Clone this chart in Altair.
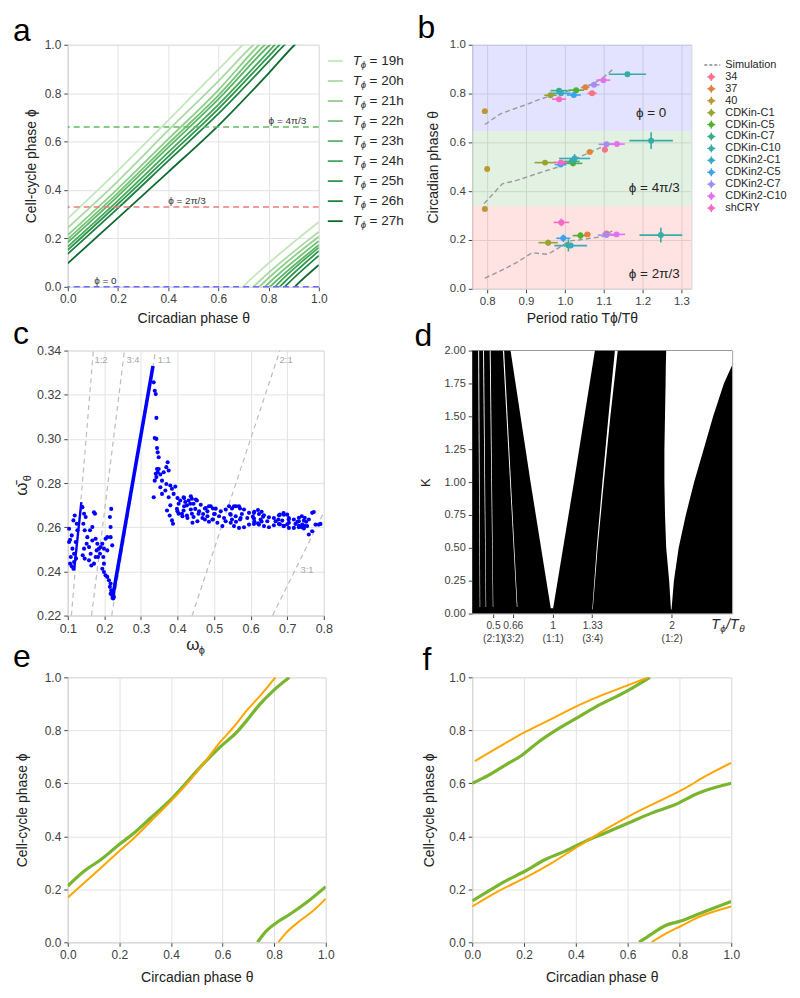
import altair as alt
import pandas as pd

FONT = "Liberation Sans"
GRID = "#e3e3e3"
FRAME = "#d5d5d5"
INK = "#262626"

# ======================= panel a : data =======================
a_periods = ["19h", "20h", "21h", "22h", "23h", "24h", "25h", "26h", "27h"]
a_theta_grid = [0.0, 0.2, 0.4, 0.6, 0.8]
# cell-cycle phase read at theta = 0, 0.2, 0.4, 0.6, 0.8 (None once the line has wrapped)
a_phi_19h = [0.282, 0.480, 0.688, 0.898, None]
a_phi_20h = [0.244, 0.437, 0.646, 0.850, None]
a_phi_21h = [0.214, 0.406, 0.610, 0.813, None]
a_phi_22h = [0.197, 0.388, 0.591, 0.791, None]
a_phi_23h = [0.184, 0.375, 0.576, 0.775, None]
a_phi_24h = [0.166, 0.356, 0.555, 0.753, 0.972]
a_phi_25h = [0.152, 0.342, 0.538, 0.735, 0.952]
a_phi_26h = [0.136, 0.325, 0.520, 0.715, 0.930]
a_phi_27h = [0.097, 0.285, 0.474, 0.666, 0.882]
a_theta_at_phi1 = [0.697, 0.739, 0.763, 0.785, 0.805, 0.825, 0.844, 0.864, 0.904]
a_phi_at_theta1 = [0.268, 0.227, 0.207, 0.189, 0.173, 0.162, 0.148, 0.129, 0.090]
a_ref_phi = [0.0, 0.33, 0.66]
a_ref_label = ["ϕ = 0", "ϕ = 2π/3", "ϕ = 4π/3"]
a_ref_label_theta = [0.105, 0.40, 0.80]
a_colors = ["#c4e6bc", "#a8daa1", "#8ccf88", "#74c476", "#5cb567",
            "#45a95b", "#2f974d", "#1c8340", "#0b6b30"]
a_ref_colors = ["#6b6bff", "#f07a7a", "#62bb62"]

# ======================= panel b : data =======================
b_names = ["34", "37", "40", "CDKin-C1", "CDKin-C5", "CDKin-C7", "CDKin-C10",
           "CDKin2-C1", "CDKin2-C5", "CDKin2-C7", "CDKin2-C10", "shCRY"]
b_top_x = [1.070, 1.053, 0.794, 0.963, 1.029, 0.985, 1.161, 0.990, 1.023, 1.075, 1.099, 0.985]
b_top_y = [0.801, 0.826, 0.728, 0.793, 0.814, 0.812, 0.879, 0.801, 0.794, 0.836, 0.855, 0.777]
b_top_xerr = [0.012, 0.010, 0.005, 0.016, 0.020, 0.022, 0.048, 0.025, 0.018, 0.014, 0.018, 0.018]
b_top_yerr = [0.008, 0.008, 0.008, 0.008, 0.008, 0.010, 0.008, 0.010, 0.008, 0.008, 0.008, 0.008]
b_mid_x = [1.103, 1.064, 0.800, 0.949, 1.021, 1.018, 1.222, 1.025, 0.989, 1.107, 1.134, 0.990]
b_mid_y = [0.570, 0.561, 0.491, 0.517, 0.514, 0.522, 0.607, 0.534, 0.509, 0.592, 0.593, 0.518]
b_mid_xerr = [0.008, 0.008, 0.005, 0.027, 0.024, 0.020, 0.056, 0.040, 0.015, 0.020, 0.020, 0.018]
b_mid_yerr = [0.008, 0.008, 0.008, 0.008, 0.012, 0.012, 0.034, 0.018, 0.008, 0.008, 0.008, 0.008]
b_bot_x = [1.107, 1.058, 0.794, 0.957, 1.040, 1.009, 1.247, 1.015, 0.996, 1.107, 1.133, 0.991]
b_bot_y = [0.227, 0.223, 0.327, 0.189, 0.218, 0.178, 0.220, 0.177, 0.207, 0.220, 0.223, 0.272]
b_bot_xerr = [0.010, 0.008, 0.005, 0.025, 0.020, 0.012, 0.055, 0.042, 0.018, 0.022, 0.022, 0.020]
b_bot_yerr = [0.008, 0.008, 0.008, 0.012, 0.014, 0.025, 0.030, 0.010, 0.015, 0.008, 0.008, 0.016]
b_sim_top_x = [0.794, 0.834, 0.899, 0.937, 0.976, 1.019, 1.062, 1.096, 1.122]
b_sim_top_y = [0.673, 0.717, 0.754, 0.777, 0.797, 0.814, 0.832, 0.862, 0.897]
b_sim_mid_x = [0.792, 0.839, 0.878, 0.942, 0.985, 1.019, 1.066, 1.104, 1.121]
b_sim_mid_y = [0.349, 0.430, 0.445, 0.479, 0.500, 0.527, 0.560, 0.587, 0.595]
b_sim_bot_x = [0.794, 0.834, 0.873, 0.916, 0.956, 0.985, 1.010, 1.036, 1.096, 1.122]
b_sim_bot_y = [0.044, 0.073, 0.105, 0.148, 0.141, 0.169, 0.196, 0.200, 0.214, 0.237]
b_band_edges = [0.0, 0.339, 0.648, 1.0]
b_band_label = ["ϕ = 2π/3", "ϕ = 4π/3", "ϕ = 0"]
b_band_label_x = [1.23, 1.23, 1.222]
b_band_label_y = [0.060, 0.414, 0.720]
b_colors = ["#f77189", "#e0823a", "#bb9832", "#97a431", "#50b131", "#34af8a",
            "#36ada4", "#38aabf", "#3ba3ec", "#a48cf4", "#e46ff3", "#f668c2"]

# ======================= panel c : data =======================
c_left_cluster = [(0.1036, 0.2593), (0.1064, 0.2543), (0.1036, 0.2533), (0.1082, 0.2465),
                  (0.1064, 0.2435), (0.1109, 0.2423), (0.1154, 0.2412), (0.1172, 0.2442),
                  (0.1127, 0.2503), (0.1154, 0.2631), (0.1190, 0.2653), (0.1245, 0.2616),
                  (0.1263, 0.2586), (0.1109, 0.2563), (0.1218, 0.2533), (0.1172, 0.2480),
                  (0.1227, 0.2458)]
c_cloud = [(0.1400, 0.2691), (0.1445, 0.2661), (0.1490, 0.2646), (0.1426, 0.2616),
           (0.1463, 0.2586), (0.1535, 0.2555), (0.1517, 0.2525), (0.1445, 0.2503),
           (0.1408, 0.2473), (0.1463, 0.2458), (0.1581, 0.2510), (0.1626, 0.2480),
           (0.1608, 0.2586), (0.1672, 0.2601), (0.1717, 0.2668), (0.1744, 0.2661),
           (0.1672, 0.2540), (0.1762, 0.2548), (0.1808, 0.2525), (0.1790, 0.2495),
           (0.1853, 0.2503), (0.1898, 0.2510), (0.1880, 0.2480), (0.1944, 0.2525),
           (0.1989, 0.2503), (0.2034, 0.2548), (0.2080, 0.2555), (0.2171, 0.2555),
           (0.2171, 0.2601), (0.2189, 0.2683), (0.2152, 0.2646), (0.2216, 0.2518),
           (0.2080, 0.2495), (0.1971, 0.2465), (0.1826, 0.2465), (0.1717, 0.2435),
           (0.1644, 0.2427), (0.1581, 0.2450), (0.1762, 0.2465), (0.1989, 0.2435)]
c_descent = [(0.1944, 0.2412), (0.1989, 0.2397), (0.2034, 0.2382), (0.2080, 0.2375),
             (0.2125, 0.2360), (0.2171, 0.2345), (0.2152, 0.2330), (0.2189, 0.2314),
             (0.2171, 0.2299), (0.2216, 0.2292), (0.2243, 0.2277), (0.2261, 0.2284)]
c_after_peak = [(0.3350, 0.3256), (0.3378, 0.3218), (0.3405, 0.3203), (0.3423, 0.3095),
                (0.3378, 0.3004), (0.3423, 0.3000), (0.3441, 0.2959), (0.3459, 0.2939),
                (0.3486, 0.2917), (0.3441, 0.2864), (0.3350, 0.2736), (0.3378, 0.2811),
                (0.3405, 0.2842), (0.3423, 0.2827), (0.3459, 0.2849), (0.3486, 0.2864),
                (0.3532, 0.2839), (0.3577, 0.2811), (0.3622, 0.2849), (0.3695, 0.2872),
                (0.3731, 0.2894), (0.3759, 0.2857), (0.3532, 0.2781), (0.3577, 0.2751),
                (0.3668, 0.2766), (0.3695, 0.2796), (0.3804, 0.2789), (0.3849, 0.2774),
                (0.3895, 0.2751), (0.3940, 0.2784), (0.3759, 0.2736), (0.3804, 0.2699),
                (0.3713, 0.2676), (0.3786, 0.2653), (0.3849, 0.2631), (0.3877, 0.2616),
                (0.3985, 0.2683), (0.4031, 0.2706), (0.4076, 0.2721), (0.4167, 0.2736),
                (0.4212, 0.2714), (0.4258, 0.2699), (0.4303, 0.2721), (0.4348, 0.2706),
                (0.4394, 0.2729), (0.4439, 0.2706), (0.4485, 0.2683), (0.4530, 0.2721),
                (0.4575, 0.2661), (0.4439, 0.2646), (0.4394, 0.2661), (0.4258, 0.2653),
                (0.4167, 0.2676), (0.4122, 0.2661), (0.4031, 0.2661)]
c_band_upper = [(0.4000, 0.2732), (0.4182, 0.2732), (0.4364, 0.2740), (0.4500, 0.2725),
                (0.4636, 0.2702), (0.4773, 0.2687), (0.4909, 0.2695), (0.5045, 0.2684),
                (0.5182, 0.2672), (0.5318, 0.2680), (0.5409, 0.2695), (0.5545, 0.2695),
                (0.5682, 0.2695), (0.5818, 0.2680), (0.5955, 0.2665), (0.6091, 0.2665),
                (0.6227, 0.2660), (0.6364, 0.2654), (0.6500, 0.2645), (0.6636, 0.2642),
                (0.6773, 0.2654), (0.6909, 0.2657), (0.7045, 0.2642), (0.7182, 0.2635),
                (0.7318, 0.2627), (0.7455, 0.2630), (0.7591, 0.2635), (0.7682, 0.2665),
                (0.7727, 0.2669), (0.7773, 0.2612)]
c_band_lower = [(0.4000, 0.2672), (0.4136, 0.2650), (0.4273, 0.2642), (0.4409, 0.2620),
                (0.4545, 0.2627), (0.4682, 0.2642), (0.4818, 0.2650), (0.4955, 0.2635),
                (0.5091, 0.2620), (0.5227, 0.2605), (0.5318, 0.2627), (0.5455, 0.2620),
                (0.5545, 0.2605), (0.5682, 0.2597), (0.5818, 0.2600), (0.5955, 0.2612),
                (0.6091, 0.2615), (0.6227, 0.2612), (0.6364, 0.2605), (0.6500, 0.2600),
                (0.6636, 0.2609), (0.6773, 0.2615), (0.6909, 0.2605), (0.7045, 0.2597),
                (0.7182, 0.2597), (0.7318, 0.2600), (0.7455, 0.2594), (0.7591, 0.2567),
                (0.7682, 0.2582), (0.7864, 0.2612), (0.7909, 0.2615)]
c_band_mid = [(0.4182, 0.2695), (0.4364, 0.2680), (0.4591, 0.2672), (0.4818, 0.2672),
              (0.5000, 0.2660), (0.5136, 0.2650), (0.5273, 0.2642), (0.5455, 0.2657),
              (0.5591, 0.2650), (0.5727, 0.2642), (0.5909, 0.2642), (0.6091, 0.2639),
              (0.6273, 0.2635), (0.6455, 0.2627), (0.6682, 0.2627), (0.6864, 0.2630),
              (0.7045, 0.2620), (0.7227, 0.2615), (0.7409, 0.2612), (0.7545, 0.2605)]
c_band_loops = [(0.470, 0.2660), (0.475, 0.2685), (0.486, 0.2695), (0.497, 0.2685),
                (0.502, 0.2660), (0.497, 0.2635), (0.486, 0.2625), (0.475, 0.2635),
                (0.544, 0.2660), (0.549, 0.2685), (0.560, 0.2695), (0.571, 0.2685),
                (0.576, 0.2660), (0.571, 0.2635), (0.560, 0.2625), (0.549, 0.2635),
                (0.606, 0.2648), (0.610, 0.2670), (0.620, 0.2678), (0.630, 0.2670),
                (0.634, 0.2648), (0.630, 0.2626), (0.620, 0.2618), (0.610, 0.2626),
                (0.676, 0.2635), (0.680, 0.2657), (0.690, 0.2664), (0.700, 0.2657),
                (0.704, 0.2635), (0.700, 0.2613), (0.690, 0.2606), (0.680, 0.2613),
                (0.728, 0.2625), (0.732, 0.2643), (0.740, 0.2650), (0.748, 0.2643),
                (0.752, 0.2625), (0.748, 0.2607), (0.740, 0.2600), (0.732, 0.2607)]
c_lock12_x = [0.1172, 0.1372]
c_lock12_y = [0.2405, 0.2714]
c_lock11_x = [0.2216, 0.3330]
c_lock11_y = [0.2272, 0.3330]
c_ratio_label = ["1:2", "3:4", "1:1", "2:1", "3:1"]
c_ratio_x0 = [0.110, 0.165, 0.220, 0.440, 0.660]
c_ratio_y0 = [0.220, 0.220, 0.220, 0.220, 0.220]
c_ratio_x1 = [0.170, 0.255, 0.340, 0.680, 0.800]
c_ratio_y1 = [0.340, 0.340, 0.340, 0.340, 0.2667]
c_ratio_label_x = [0.173, 0.2605, 0.3457, 0.679, 0.736]
c_ratio_label_y = [0.3357, 0.3357, 0.3357, 0.3357, 0.2405]

# ======================= panel d : data =======================
d_domain_x = [0.325, 2.51]
d_domain_k = [0.0, 2.0]
d_v11_k = [0.04, 1.0, 2.0]
d_v11_left = [0.985, 0.815, 0.647]
d_v11_right = [1.005, 1.180, 1.356]
d_v12_k = [0.03, 0.25, 0.5, 0.75, 1.0, 1.25, 1.5, 1.75, 1.89, 2.0]
d_v12_left = [1.995, 1.980, 1.955, 1.945, 1.940, 1.940, 1.945, 1.950, 1.952, 1.955]
d_v12_right = [2.000, 2.020, 2.060, 2.120, 2.190, 2.270, 2.350, 2.440, 2.510, 2.510]
d_s34_k = [0.03, 0.5, 1.0, 1.5, 2.0]
d_s34_left = [1.334, 1.371, 1.419, 1.470, 1.524]
d_s34_right = [1.338, 1.379, 1.431, 1.486, 1.548]
d_streak_k = [0.05, 2.0]
d_streak_left = [[0.388, 0.375], [0.438, 0.416], [0.498, 0.472], [0.700, 0.583]]
d_streak_right = [[0.392, 0.383], [0.442, 0.424], [0.502, 0.480], [0.705, 0.593]]
d_tick_vals = [0.5, 0.666, 1.0, 1.333, 2.0]
d_tick_top = ["0.5", "0.66", "1", "1.33", "2"]
d_tick_bottom = ["(2:1)", "(3:2)", "(1:1)", "(3:4)", "(1:2)"]

# ======================= panel e / f : data =======================
e_green_main_x = [0.0, 0.064, 0.129, 0.199, 0.257, 0.321, 0.398, 0.463, 0.527, 0.591, 0.656, 0.694, 0.746, 0.797, 0.859]
e_green_main_y = [0.2125, 0.269, 0.3125, 0.369, 0.4125, 0.469, 0.5375, 0.606, 0.675, 0.7375, 0.794, 0.8375, 0.900, 0.950, 1.0]
e_green_low_x = [0.735, 0.771, 0.810, 0.861, 0.925, 1.0]
e_green_low_y = [0.0, 0.044, 0.075, 0.106, 0.150, 0.210]
e_orange_main_x = [0.0, 0.064, 0.129, 0.199, 0.257, 0.321, 0.398, 0.463, 0.527, 0.591, 0.643, 0.694, 0.746, 0.805]
e_orange_main_y = [0.169, 0.225, 0.281, 0.344, 0.394, 0.456, 0.531, 0.600, 0.675, 0.756, 0.8125, 0.875, 0.931, 1.0]
e_orange_low_x = [0.816, 0.848, 0.900, 0.951, 1.0]
e_orange_low_y = [0.0, 0.0375, 0.081, 0.119, 0.165]

f_green_mid_x = [0.0, 0.064, 0.128, 0.205, 0.282, 0.359, 0.436, 0.513, 0.603, 0.692, 0.782, 0.872, 1.0]
f_green_mid_y = [0.156, 0.194, 0.231, 0.269, 0.3125, 0.344, 0.381, 0.4125, 0.450, 0.4875, 0.519, 0.5625, 0.600]
f_green_top_x = [0.0, 0.064, 0.128, 0.192, 0.256, 0.333, 0.410, 0.487, 0.590, 0.686]
f_green_top_y = [0.600, 0.631, 0.669, 0.706, 0.756, 0.806, 0.850, 0.894, 0.944, 1.0]
f_green_low_x = [0.644, 0.692, 0.744, 0.808, 0.872, 1.0]
f_green_low_y = [0.0, 0.031, 0.0625, 0.081, 0.106, 0.154]
f_orange_mid_x = [0.0, 0.103, 0.205, 0.308, 0.410, 0.513, 0.615, 0.718, 0.821, 0.897, 1.0]
f_orange_mid_y = [0.135, 0.194, 0.244, 0.300, 0.3625, 0.425, 0.481, 0.531, 0.581, 0.625, 0.6775]
f_orange_top_x = [0.010, 0.103, 0.205, 0.308, 0.410, 0.513, 0.615, 0.679]
f_orange_top_y = [0.684, 0.7375, 0.794, 0.844, 0.894, 0.9375, 0.975, 1.0]
f_orange_low_x = [0.692, 0.744, 0.808, 0.872, 1.0]
f_orange_low_y = [0.0, 0.031, 0.0625, 0.094, 0.135]

GREEN = "#7ab52e"
ORANGE = "#ffa500"

# ======================= helpers =======================
ticks01 = [0, 0.2, 0.4, 0.6, 0.8, 1.0]


def qx(field, domain, values, fmt, title, **kw):
    return alt.X(field, type="quantitative",
                 scale=alt.Scale(domain=domain, nice=False, zero=False),
                 axis=alt.Axis(values=values, format=fmt, title=title, **kw))


def qy(field, domain, values, fmt, title, **kw):
    return alt.Y(field, type="quantitative",
                 scale=alt.Scale(domain=domain, nice=False, zero=False),
                 axis=alt.Axis(values=values, format=fmt, title=title, **kw))


def letter(ch, dx, dy):
    return alt.Chart(pd.DataFrame({"t": [ch]})).mark_text(
        align="left", baseline="alphabetic", fontSize=32, font=FONT, color="black"
    ).encode(text="t:N", x=alt.value(dx), y=alt.value(dy))


def label(txt, dx, dy, size=14, italic=False, angle=0, align="left", color=INK):
    kw = dict(align=align, baseline="alphabetic", fontSize=size, font=FONT, color=color)
    if italic:
        kw["fontStyle"] = "italic"
    if angle:
        kw["angle"] = angle
    return alt.Chart(pd.DataFrame({"t": [txt]})).mark_text(**kw).encode(
        text="t:N", x=alt.value(dx), y=alt.value(dy))


def seg_table(segs):
    rows = []
    for name, xs, ys in segs:
        for k, (xv, yv) in enumerate(zip(xs, ys)):
            rows.append({"seg": name, "k": k, "x": xv, "y": yv})
    return pd.DataFrame(rows)


# ======================= panel a =======================
WA, HA = 252, 243
ax_a = lambda f: qx(f, [0, 1], ticks01, ".1f", "Circadian phase θ", titlePadding=7)
ay_a = lambda f: qy(f, [0, 1], ticks01, ".1f", "Cell-cycle phase ϕ", titlePadding=6)
a_phi_rows = [a_phi_19h, a_phi_20h, a_phi_21h, a_phi_22h, a_phi_23h,
              a_phi_24h, a_phi_25h, a_phi_26h, a_phi_27h]
a_rows = []
for i, p in enumerate(a_periods):
    pts = [(t, v) for t, v in zip(a_theta_grid, a_phi_rows[i]) if v is not None]
    pts += [(a_theta_at_phi1[i], 1.0), (1.0, 1.0 + a_phi_at_theta1[i])]
    pts.sort()
    for k, (t, v) in enumerate(pts):
        a_rows.append({"period": p, "k": k, "theta": t, "phi": v})
a_df = pd.DataFrame(a_rows)
a_color = alt.Color("period:N", scale=alt.Scale(domain=a_periods, range=a_colors), legend=None)

a_up = alt.Chart(a_df).mark_line(clip=True, interpolate="monotone", strokeWidth=1.8).encode(
    x=ax_a("theta"), y=ay_a("phi"), color=a_color, order="k:Q")
a_lo = alt.Chart(a_df).transform_calculate(phiw="datum.phi - 1").mark_line(
    clip=True, interpolate="monotone", strokeWidth=1.8).encode(
    x=ax_a("theta"), y=ay_a("phiw"), color=a_color, order="k:Q")
a_ref_df = pd.DataFrame({"phi": a_ref_phi, "lab": a_ref_label, "tx": a_ref_label_theta,
                         "col": a_ref_colors})
a_ref = alt.Chart(a_ref_df).mark_rule(strokeDash=[6, 4], strokeWidth=1.4).encode(
    y=ay_a("phi"), stroke=alt.Stroke("col:N", scale=None))
a_txt = alt.Chart(a_ref_df).mark_text(align="left", baseline="alphabetic", dy=-3,
                                      fontSize=10, font=FONT, color="#333").encode(
    x=ax_a("tx"), y=ay_a("phi"), text="lab:N")
a_leg = pd.DataFrame({"period": a_periods, "val": ["= " + p for p in a_periods]})
a_leg["ly"] = [1 - (16.3 + i * 20.1) / HA for i in range(len(a_periods))]
a_leg_line = alt.Chart(a_leg).mark_rule(strokeWidth=1.8).encode(
    x=alt.value(261), x2=alt.value(276), y=ay_a("ly"), color=a_color)
a_leg_T = alt.Chart(a_leg).mark_text(align="left", baseline="middle", fontSize=13.5,
                                     font=FONT, fontStyle="italic", color=INK).encode(
    x=alt.value(286), y=ay_a("ly"), text=alt.value("T"))
a_leg_sub = alt.Chart(a_leg).mark_text(align="left", baseline="middle", fontSize=9.5, dy=4,
                                       font=FONT, fontStyle="italic", color=INK).encode(
    x=alt.value(294), y=ay_a("ly"), text=alt.value("ϕ"))
a_leg_val = alt.Chart(a_leg).mark_text(align="left", baseline="middle", fontSize=13.5,
                                       font=FONT, color=INK).encode(
    x=alt.value(303), y=ay_a("ly"), text="val:N")
panel_a = alt.layer(a_up, a_lo, a_ref, a_txt, a_leg_line, a_leg_T, a_leg_sub, a_leg_val,
                    letter("a", -55, -4)).properties(width=WA, height=HA)

# ======================= panel b =======================
WB, HB = 220, 245
bx = lambda f: qx(f, [0.7615, 1.3256], [0.8, 0.9, 1.0, 1.1, 1.2, 1.3], ".1f",
                  "Period ratio Tϕ/Tθ", titlePadding=4, labelFontSize=11.5)
by = lambda f: qy(f, [0, 1], ticks01, ".1f", "Circadian phase θ", titlePadding=9,
                  labelFontSize=11.5)
b_rows = []
for grp, xs, ys, xe, ye in [("top", b_top_x, b_top_y, b_top_xerr, b_top_yerr),
                            ("mid", b_mid_x, b_mid_y, b_mid_xerr, b_mid_yerr),
                            ("bot", b_bot_x, b_bot_y, b_bot_xerr, b_bot_yerr)]:
    for i, n in enumerate(b_names):
        b_rows.append({"grp": grp, "name": n, "x": xs[i], "y": ys[i], "xerr": xe[i], "yerr": ye[i]})
b_df = pd.DataFrame(b_rows)
b_color = alt.Color("name:N", scale=alt.Scale(domain=b_names, range=b_colors), legend=None)

b_band_df = pd.DataFrame({"y0": b_band_edges[:-1], "y1": b_band_edges[1:], "band": ["r", "g", "b"]})
b_bands = alt.Chart(b_band_df).mark_rect(opacity=0.11).encode(
    x=alt.value(0), x2=alt.value(WB), y=by("y0"), y2="y1:Q",
    fill=alt.Fill("band:N", scale=alt.Scale(domain=["r", "g", "b"],
                                            range=["#ff0000", "#008000", "#0000ff"]), legend=None))
b_sim = alt.Chart(seg_table([("t", b_sim_top_x, b_sim_top_y), ("m", b_sim_mid_x, b_sim_mid_y),
                             ("b", b_sim_bot_x, b_sim_bot_y)])).mark_line(
    strokeDash=[5, 3], strokeWidth=1.4, color="#999999").encode(
    x=bx("x"), y=by("y"), detail="seg:N", order="k:Q")
b_xe = alt.Chart(b_df).transform_calculate(
    xl="datum.x - datum.xerr", xh="datum.x + datum.xerr").mark_rule(strokeWidth=1.6).encode(
    x=bx("xl"), x2="xh:Q", y=by("y"), color=b_color)
b_ye = alt.Chart(b_df).transform_calculate(
    yl="datum.y - datum.yerr", yh="datum.y + datum.yerr").mark_rule(strokeWidth=1.6).encode(
    x=bx("x"), y=by("yl"), y2="yh:Q", color=b_color)
b_pts = alt.Chart(b_df).mark_circle(size=36, opacity=1).encode(x=bx("x"), y=by("y"), color=b_color)
b_ann = alt.Chart(pd.DataFrame({"t": b_band_label, "x": b_band_label_x, "y": b_band_label_y})).mark_text(
    align="center", baseline="middle", fontSize=13.5, font=FONT, color=INK).encode(
    x=bx("x"), y=by("y"), text="t:N")
b_leg = pd.DataFrame({"name": b_names})
b_leg["ly"] = [1 - (20.3 + (i + 1) * 11.97) / HB for i in range(len(b_names))]
b_leg["ly_lo"] = b_leg["ly"] - 4.0 / HB
b_leg["ly_hi"] = b_leg["ly"] + 4.0 / HB
b_leg_sim = pd.DataFrame({"t": ["Simulation"], "ly": [1 - 20.3 / HB]})
b_leg_l1 = alt.Chart(b_leg_sim).mark_rule(strokeDash=[3, 2], strokeWidth=1.4, color="#888").encode(
    x=alt.value(233), x2=alt.value(249), y=by("ly"))
b_leg_t1 = alt.Chart(b_leg_sim).mark_text(align="left", baseline="middle", fontSize=11,
                                          font=FONT, color=INK).encode(
    x=alt.value(254), y=by("ly"), text="t:N")
b_leg_h = alt.Chart(b_leg).mark_rule(strokeWidth=1.4).encode(
    x=alt.value(236), x2=alt.value(244), y=by("ly"), color=b_color)
b_leg_v = alt.Chart(b_leg).mark_rule(strokeWidth=1.4).encode(
    x=alt.value(240), y=by("ly_lo"), y2="ly_hi:Q", color=b_color)
b_leg_p = alt.Chart(b_leg).mark_circle(size=26, opacity=1).encode(
    x=alt.value(240), y=by("ly"), color=b_color)
b_leg_t = alt.Chart(b_leg).mark_text(align="left", baseline="middle", fontSize=11,
                                     font=FONT, color=INK).encode(
    x=alt.value(254), y=by("ly"), text="name:N")
panel_b = alt.layer(b_bands, b_sim, b_xe, b_ye, b_pts, b_ann, b_leg_l1, b_leg_t1,
                    b_leg_h, b_leg_v, b_leg_p, b_leg_t,
                    letter("b", -55, -7)).properties(width=WB, height=HB)

# ======================= panel c =======================
WC, HC = 257, 266
cx = lambda f: qx(f, [0.1, 0.8], [0.1, 0.2, 0.3, 0.4, 0.5, 0.6, 0.7, 0.8], ".1f", None,
                  labelFontSize=12.5)
cy = lambda f: qy(f, [0.22, 0.34], [0.22, 0.24, 0.26, 0.28, 0.30, 0.32, 0.34], ".2f", None,
                  labelFontSize=12.5)
c_all = (c_left_cluster + c_cloud + c_descent + c_after_peak + c_band_upper
         + c_band_lower + c_band_mid + c_band_loops)
c_df = pd.DataFrame({"w_phi": [p[0] for p in c_all], "w_theta": [p[1] for p in c_all]})
c_ratio_df = pd.DataFrame({"lab": c_ratio_label, "x0": c_ratio_x0, "y0": c_ratio_y0,
                           "x1": c_ratio_x1, "y1": c_ratio_y1,
                           "lx": c_ratio_label_x, "ly": c_ratio_label_y})
c_ratio = alt.Chart(c_ratio_df).mark_rule(strokeDash=[5, 4], strokeWidth=1.2, color="#bdbdbd").encode(
    x=cx("x0"), y=cy("y0"), x2="x1:Q", y2="y1:Q")
c_ratio_t = alt.Chart(c_ratio_df).mark_text(align="left", baseline="middle", fontSize=9.5,
                                            font=FONT, color="#a8a8a8").encode(
    x=cx("lx"), y=cy("ly"), text="lab:N")
c_lock12 = alt.Chart(seg_table([("12", c_lock12_x, c_lock12_y)])).mark_line(
    strokeWidth=2.4, color="#0000ff").encode(x=cx("x"), y=cy("y"), order="k:Q")
c_lock11 = alt.Chart(seg_table([("11", c_lock11_x, c_lock11_y)])).mark_line(
    strokeWidth=3.6, color="#0000ff").encode(x=cx("x"), y=cy("y"), order="k:Q")
c_pts = alt.Chart(c_df).mark_circle(size=17, opacity=1, color="#0000ff").encode(
    x=cx("w_phi"), y=cy("w_theta"))
panel_c = alt.layer(
    c_ratio, c_ratio_t, c_lock12, c_lock11, c_pts,
    label("ω", WC / 2 - 3, HC + 35, size=17, align="center"),
    label("ϕ", WC / 2 + 6, HC + 39, size=11, align="center"),
    label("ω̄", -41, HC / 2 + 6, size=17, angle=270, align="center"),
    label("θ", -37, HC / 2 - 5, size=11, angle=270, align="center"),
    letter("c", -55, -7)).properties(width=WC, height=HC)

# ======================= panel d =======================
WD, HD = 261, 264
d_label_expr = ""
for v, t, b in zip(d_tick_vals, d_tick_top, d_tick_bottom):
    d_label_expr += "abs(datum.value - %s) < 0.01 ? ['%s', '%s'] : " % (v, t, b)
d_label_expr += "''"
dx_ = lambda f: qx(f, d_domain_x, d_tick_vals, ".2f", None, grid=False, labelExpr=d_label_expr,
                   labelOverlap=False, labelBound=False, labelLineHeight=13, labelFontSize=10.3)
dy_ = lambda f: qy(f, d_domain_k, [0, 0.25, 0.5, 0.75, 1.0, 1.25, 1.5, 1.75, 2.0], ".2f", "K",
                   grid=False, labelFontSize=11, titlePadding=11, titleFontSize=13)
d_bg = alt.Chart(pd.DataFrame({"x0": [d_domain_x[0]], "x1": [d_domain_x[1]],
                               "k0": [d_domain_k[0]], "k1": [d_domain_k[1]]})).mark_rect(
    color="black").encode(x=dx_("x0"), x2="x1:Q", y=dy_("k0"), y2="k1:Q")
d_rows = []
for name, ks, ls, rs in ([("v11", d_v11_k, d_v11_left, d_v11_right),
                          ("v12", d_v12_k, d_v12_left, d_v12_right),
                          ("s34", d_s34_k, d_s34_left, d_s34_right)] +
                         [("s%d" % j, d_streak_k, d_streak_left[j], d_streak_right[j])
                          for j in range(len(d_streak_left))]):
    for kk, lv, rv in zip(ks, ls, rs):
        d_rows.append({"id": name, "K": kk, "left": lv, "right": rv})
d_tongue = alt.Chart(pd.DataFrame(d_rows)).mark_area(
    orient="horizontal", color="white", clip=True, opacity=1).encode(
    y=dy_("K"), x=dx_("left"), x2="right:Q", detail="id:N")
panel_d = alt.layer(
    d_bg, d_tongue,
    label("T", 240, HD + 15, size=14, italic=True),
    label("ϕ", 249, HD + 19, size=10, italic=True),
    label("/T", 255, HD + 15, size=14, italic=True),
    label("θ", 268, HD + 19, size=10, italic=True),
    letter("d", -58, -5)).properties(width=WD, height=HD)


# ======================= panels e, f =======================
def phase_panel(W, H, segs_green, segs_orange, ch, ldx, ldy, tpad):
    ex = lambda f: qx(f, [0, 1], ticks01, ".1f", "Circadian phase θ", titlePadding=10)
    ey = lambda f: qy(f, [0, 1], ticks01, ".1f", "Cell-cycle phase ϕ", titlePadding=tpad)
    g = alt.Chart(seg_table(segs_green)).mark_line(
        clip=True, interpolate="monotone", strokeWidth=3.2, color=GREEN).encode(
        x=ex("x"), y=ey("y"), detail="seg:N", order="k:Q")
    o = alt.Chart(seg_table(segs_orange)).mark_line(
        clip=True, interpolate="monotone", strokeWidth=2.0, color=ORANGE).encode(
        x=ex("x"), y=ey("y"), detail="seg:N", order="k:Q")
    return alt.layer(g, o, letter(ch, ldx, ldy)).properties(width=W, height=H)


panel_e = phase_panel(259, 266,
                      [("m", e_green_main_x, e_green_main_y), ("l", e_green_low_x, e_green_low_y)],
                      [("m", e_orange_main_x, e_orange_main_y), ("l", e_orange_low_x, e_orange_low_y)],
                      "e", -55, -10, 15)
panel_f = phase_panel(260, 266,
                      [("m", f_green_mid_x, f_green_mid_y), ("t", f_green_top_x, f_green_top_y),
                       ("l", f_green_low_x, f_green_low_y)],
                      [("m", f_orange_mid_x, f_orange_mid_y), ("t", f_orange_top_x, f_orange_top_y),
                       ("l", f_orange_low_x, f_orange_low_y)],
                      "f", -50, -7, 12)

chart = alt.concat(panel_a, panel_b, panel_c, panel_d, panel_e, panel_f,
                   columns=2, spacing={"row": 62, "column": 147},
                   bounds="flush", align="each").resolve_scale(
    color="independent", fill="independent", stroke="independent").properties(
    padding={"left": 4, "top": 1, "right": 4, "bottom": 4})

chart = chart.configure(font=FONT).configure_axis(
    labelFont=FONT, titleFont=FONT, labelFontSize=12, titleFontSize=14,
    labelColor="#404040", titleColor="#222222", titleFontWeight="normal",
    domainColor=FRAME, tickColor="#444444", tickSize=4, gridColor=GRID,
    labelPadding=3, labelFlush=False).configure_view(stroke=FRAME)

chart.save("out.html", embed_options={"renderer": "svg", "actions": False})
